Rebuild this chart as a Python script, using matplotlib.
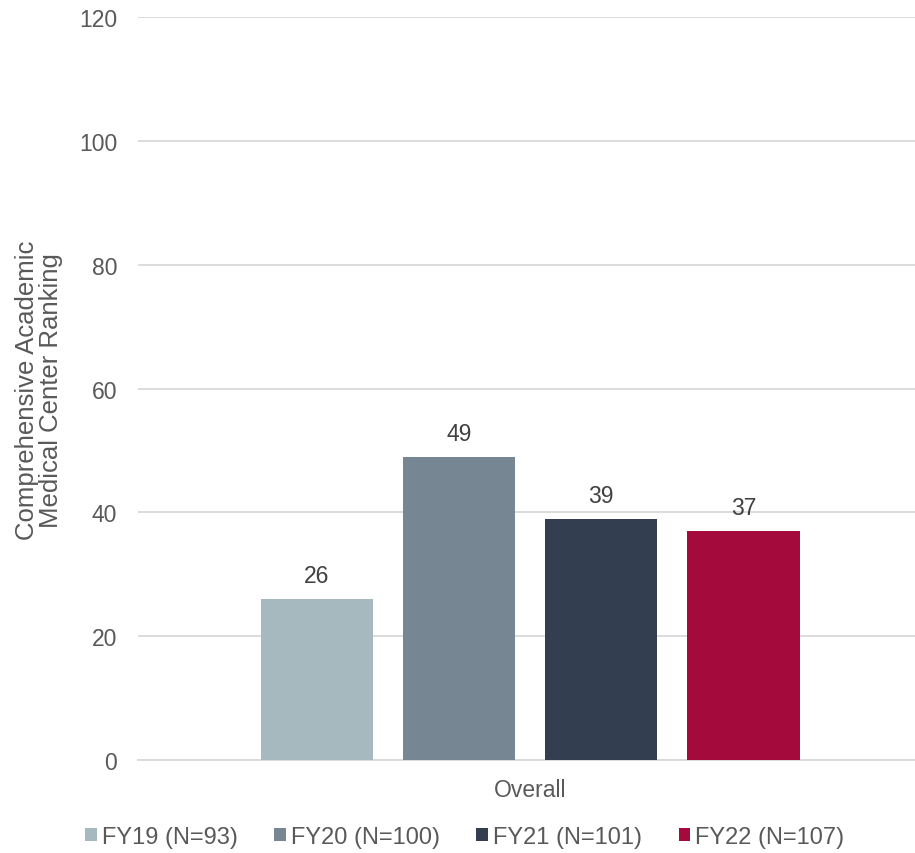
import matplotlib.pyplot as plt
import numpy as np

plt.rcParams['font.family'] = ['Liberation Sans', 'DejaVu Sans']

series = ['FY19 (N=93)', 'FY20 (N=100)', 'FY21 (N=101)', 'FY22 (N=107)']
values = [26, 49, 39, 37]
colors = ['#A5B9BE', '#768692', '#333F50', '#A50A3C']
category = 'Overall'

fig = plt.figure(figsize=(9.15, 8.54), dpi=100)
ax = fig.add_axes([0.1508, 0.1089, 0.857, 0.870])

width = 0.143
step = 0.1815
offsets = (np.arange(len(values)) - 1.5) * step
for i in range(len(values)):
    bar = ax.bar(offsets[i], values[i], width=width, color=colors[i], label=series[i], zorder=3)
    ax.text(offsets[i], values[i] + 1.9, str(values[i]), ha='center', va='bottom',
            fontsize=16.5, color='#404040')

ax.set_xlim(-0.5, 0.5)
ax.set_ylim(0, 120)
ax.set_yticks(range(0, 121, 20))
ax.set_xticks([0])
ax.set_xticklabels([category])
ax.tick_params(axis='both', length=0, labelsize=16.5, labelcolor='#595959')
ax.tick_params(axis='y', pad=15)
ax.tick_params(axis='x', pad=13)
ax.grid(axis='y', color='#D9D9D9', linewidth=1.3, zorder=0)
for s in ['top', 'right', 'left']:
    ax.spines[s].set_visible(False)
ax.spines['bottom'].set_color('#D9D9D9')
ax.spines['bottom'].set_linewidth(1.3)

fig.text(0.0425, 0.543, 'Comprehensive Academic\nMedical Center Ranking', rotation=90,
         ha='center', va='center', fontsize=18.5, color='#595959', linespacing=1.0)

fig.legend(loc='center', bbox_to_anchor=(0.508, 0.019), ncol=4, frameon=False,
           fontsize=17, handlelength=0.5, handleheight=0.5, handletextpad=0.2,
           columnspacing=1.55, labelcolor='#595959')

fig.savefig('out.png', dpi=100)
